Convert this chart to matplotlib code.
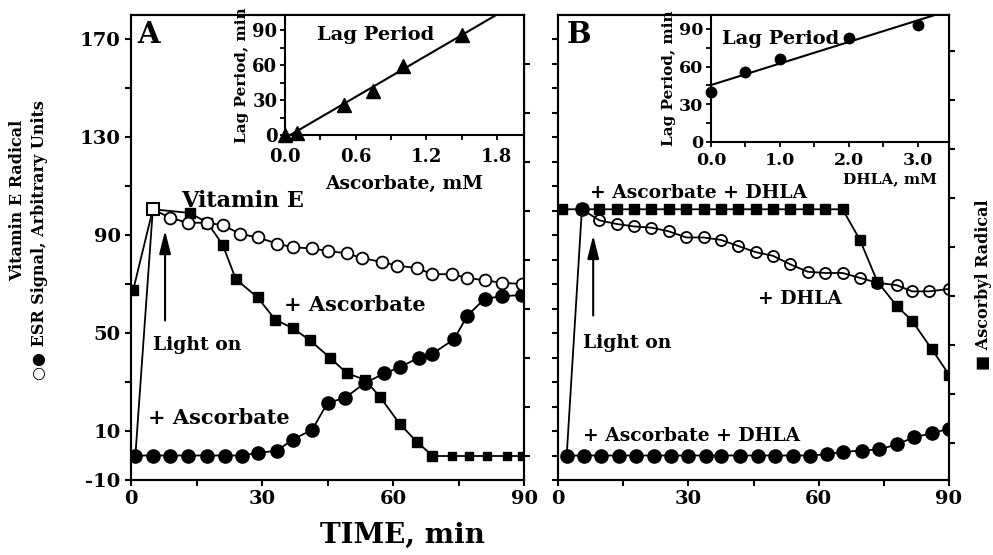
import numpy as np
import matplotlib
matplotlib.use("Agg")
import matplotlib.pyplot as plt
from matplotlib.ticker import MultipleLocator, FixedLocator

plt.rcParams['font.family'] = ['DejaVu Serif', 'DejaVu Sans']
plt.rcParams['font.weight'] = 'bold'
plt.rcParams['axes.linewidth'] = 1.5
plt.rcParams['axes.unicode_minus'] = False

# ---- panel A: vitamin E + ascorbate ----
a_vit_t = [1, 5, 9, 13, 17.5, 21, 25, 29, 33.5, 37, 41.5, 45, 49.5, 53, 57.5,
           61, 65.5, 69, 73.5, 77, 81, 85, 89.5]
a_vit = [0, 100.5, 97, 95, 95, 94, 90.5, 89, 86.5, 85, 84.5, 83.5, 82.5, 80.5,
         79, 77.5, 76.5, 74, 74, 72.5, 71.5, 70.5, 70]

a_asc_t = [1, 5, 9, 13, 17.5, 21.5, 25.5, 29, 33.5, 37, 41.5, 45, 49, 53.5, 58,
           61.5, 66, 69, 74, 77, 81, 85, 89.5]
a_asc = [0, 0, 0, 0, 0, 0, 0, 1, 2, 6.5, 10.5, 21.5, 23.5, 29.5, 33.5, 36, 40,
         41.5, 47.5, 57, 64, 65, 65.5]

a_rad_t = [0.5, 5, 13.5, 17.5, 21, 24, 29, 33, 37, 41, 45.5, 49.5, 53.5, 57,
           61.5, 65.5, 69, 73.5, 77.5, 81.5, 86, 89.5]
a_rad = [67.5, 100.5, 99, 95, 86, 72, 64.5, 55.5, 52, 47, 40, 33.5, 31, 24, 13,
         5.5, 0, 0, 0, 0, 0, 0]

# ---- panel B: + DHLA ----
b_dhla_t = [2, 5.5, 9.5, 13.5, 17.5, 21.5, 25.5, 29.5, 33.5, 37.5, 41.5, 45.5,
            49.5, 53.5, 57.5, 61.5, 65.5, 69.5, 73.5, 78, 81.5, 85.5, 90]
b_dhla = [0, 100.5, 96, 94.5, 93.5, 93, 91.5, 89, 89, 88, 85.5, 83, 81.5, 78,
          75, 74.5, 74.5, 72.5, 70.5, 69.5, 67, 67, 68]

b_both_t = [2, 6, 10, 14, 18, 22, 26, 30, 34, 37.5, 42, 46, 50, 54, 58, 62,
            65.5, 70, 74, 78, 82, 86, 90]
b_both = [0, 0, 0, 0, 0, 0, 0, 0, 0, 0, 0, 0, 0, 0, 0, 0.5, 1.5, 2, 2.5, 4.5,
          7.5, 9, 11]

b_rad_t = [1, 5.5, 9.5, 13.5, 17.5, 21.5, 25.5, 29.5, 33.5, 37.5, 41.5, 45.5,
           49.5, 53.5, 57.5, 61.5, 65.5, 69.5, 73.5, 78, 81.5, 86, 90]
b_rad = [100.5, 100.5, 100.5, 100.5, 100.5, 100.5, 100.5, 100.5, 100.5, 100.5,
         100.5, 100.5, 100.5, 100.5, 100.5, 100.5, 100.5, 88, 71, 61, 55, 43.5, 33]

# ---- insets: lag period ----
ins_a_x = [0, 0.1, 0.5, 0.75, 1.0, 1.5]
ins_a_y = [0, 2, 26, 38, 59, 86]
ins_b_x = [0, 0.5, 1.0, 2.0, 3.0]
ins_b_y = [40, 56, 66, 83, 93]

y_major = [-10, 10, 50, 90, 130, 170]
y_minor = [30, 70, 110, 150]
x_major = [0, 30, 60, 90]

W, H = 993, 555


def rect(left, top, right, bottom):
    # pixel box -> figure fraction
    return [left / W, 1 - bottom / H, (right - left) / W, (bottom - top) / H]


fig = plt.figure(figsize=(W / 100, H / 100), dpi=100)
ax_a = fig.add_axes(rect(131, 15, 524, 480))
ax_b = fig.add_axes(rect(558, 15, 949, 480))

txt_a = dict(fontsize=15, fontweight='bold', va='center', ha='left')
txt_b = dict(fontsize=13.5, fontweight='bold', va='center', ha='left')
lw = 1.3
arrow = dict(arrowstyle='-|>,head_length=1.4,head_width=0.35',
             color='black', lw=1.5)

for ax in (ax_a, ax_b):
    ax.set_xlim(0, 90)
    ax.set_ylim(-10, 179.8)
    ax.set_xticks(x_major)
    ax.xaxis.set_minor_locator(MultipleLocator(15))
    ax.tick_params(axis='both', which='both', direction='out', length=4,
                   width=1.5, labelsize=14, top=False)
    ax.tick_params(axis='x', pad=3)

# panel A main axes
ax_a.set_yticks(y_major)
ax_a.yaxis.set_minor_locator(FixedLocator(y_minor))
ax_a.plot(a_rad_t[:17], a_rad[:17], '-s', color='black', lw=lw, ms=7,
          markevery=[0] + list(range(2, 17)), zorder=3)
ax_a.plot(a_rad_t[16:], a_rad[16:], '-s', color='black', lw=lw, ms=5.5, zorder=3)
ax_a.plot(a_asc_t, a_asc, '-o', color='black', lw=lw, ms=9.5, zorder=4)
ax_a.plot(a_vit_t, a_vit, '-o', color='black', lw=lw, ms=8.5, mfc='white',
          mew=1.3, markevery=list(range(2, len(a_vit))), zorder=5)
ax_a.plot(a_vit_t[1], a_vit[1], 's', ms=9, mfc='white', mec='black', mew=1.5,
          zorder=6)

ax_a.annotate('', xy=(7.8, 93), xytext=(7.8, 54), arrowprops=arrow)
ax_a.text(1.4, 172, 'A', fontsize=21, fontweight='bold', va='center')
ax_a.text(11.5, 104, 'Vitamin E', fontsize=16, fontweight='bold', va='center')
ax_a.text(35, 61.5, '+ Ascorbate', **txt_a)
ax_a.text(4, 15.5, '+ Ascorbate', **txt_a)
ax_a.text(5, 45, 'Light on', fontsize=13.5, fontweight='bold', va='center')

# panel B main axes
ax_b.set_yticks(range(-10, 180, 10))
ax_b.set_yticklabels([])
ax_b.plot(b_rad_t, b_rad, '-s', color='black', lw=lw, ms=7, zorder=3)
ax_b.plot(b_dhla_t, b_dhla, '-o', color='black', lw=lw, ms=8, mfc='none',
          mew=1.3, markevery=list(range(2, len(b_dhla))), zorder=4)
ax_b.plot(b_dhla_t[1], b_dhla[1], 'o', color='black', ms=9.5, zorder=5)
ax_b.plot(b_both_t, b_both, '-o', color='black', lw=lw, ms=9.5, zorder=4)

ax_b.annotate('', xy=(8.1, 91), xytext=(8.1, 56), arrowprops=arrow)
ax_b.text(2.1, 172, 'B', fontsize=21, fontweight='bold', va='center')
ax_b.text(7.4, 107, '+ Ascorbate + DHLA', **txt_b)
ax_b.text(46, 64, '+ DHLA', **txt_b)
ax_b.text(5.8, 8, '+ Ascorbate + DHLA', **txt_b)
ax_b.text(5.8, 46, 'Light on', fontsize=13.5, fontweight='bold', va='center')

# right side ticks (ascorbyl radical scale)
for ax, start in ((ax_a, 0), (ax_b, 5)):
    tw = ax.twinx()
    tw.set_ylim(ax.get_ylim())
    tw.set_yticks(range(start, 171, 20))
    tw.set_yticklabels([])
    tw.tick_params(axis='y', direction='out', length=4, width=1.5)

# inset A
in_a = fig.add_axes(rect(285, 15, 524, 135))
in_a.set_xlim(0, 2.03)
in_a.set_ylim(0, 103)
in_a.plot(ins_a_x, ins_a_y, '^', color='black', ms=10, clip_on=False, zorder=5)
fit_a = np.polyfit(ins_a_x, ins_a_y, 1)
xs_a = np.array(in_a.get_xlim())
in_a.plot(xs_a, np.polyval(fit_a, xs_a), color='black', lw=1.5)
in_a.set_xticks([0.0, 0.6, 1.2, 1.8])
in_a.set_xticklabels(['0.0', '0.6', '1.2', '1.8'])
in_a.xaxis.set_minor_locator(MultipleLocator(0.3))
in_a.set_yticks([0, 30, 60, 90])
in_a.yaxis.set_minor_locator(MultipleLocator(15))
in_a.tick_params(which='both', direction='out', length=3.5, width=1.3,
                 labelsize=13, pad=2)
in_a.tick_params(axis='x', pad=6)
in_a.set_xlabel('Ascorbate, mM', fontsize=13.5, fontweight='bold', labelpad=6)
in_a.set_ylabel('Lag Period, min', fontsize=11, fontweight='bold', labelpad=2)
in_a.text(0.27, 86, 'Lag Period', fontsize=14, fontweight='bold', va='center')

# inset B
in_b = fig.add_axes(rect(711, 15, 949, 142))
in_b.set_xlim(0, 3.45)
in_b.set_ylim(0, 101)
in_b.plot(ins_b_x, ins_b_y, 'o', color='black', ms=7.5, clip_on=False, zorder=5)
fit_b = np.polyfit(ins_b_x, ins_b_y, 1)
xs_b = np.array(in_b.get_xlim())
in_b.plot(xs_b, np.polyval(fit_b, xs_b), color='black', lw=1.5)
in_b.set_xticks([0.0, 1.0, 2.0, 3.0])
in_b.set_xticklabels(['0.0', '1.0', '2.0', '3.0'])
in_b.xaxis.set_minor_locator(MultipleLocator(0.5))
in_b.set_yticks([0, 30, 60, 90])
in_b.yaxis.set_minor_locator(MultipleLocator(15))
in_b.tick_params(which='both', direction='out', length=3.5, width=1.3,
                 labelsize=12.5, pad=2)
in_b.tick_params(axis='x', pad=4)
in_b.set_xlabel('DHLA, mM', fontsize=11, fontweight='bold', ha='right')
in_b.xaxis.set_label_coords(0.95, -0.24)
in_b.set_ylabel('Lag Period, min', fontsize=11, fontweight='bold', labelpad=2)
in_b.text(0.16, 82, 'Lag Period', fontsize=14, fontweight='bold', va='center')

# figure level labels
fig.text(402 / W, 1 - 535 / H, 'TIME, min', fontsize=20, fontweight='bold',
         ha='center', va='center')
fig.text(18 / W, 1 - 200 / H, 'Vitamin E Radical', fontsize=11.5,
         fontweight='bold', rotation=90, ha='center', va='center')
fig.text(40 / W, 1 - 240 / H, '○● ESR Signal, Arbitrary Units', fontsize=11.5,
         fontweight='bold', rotation=90, ha='center', va='center')
fig.text(983 / W, 1 - 285 / H, '■ Ascorbyl Radical', fontsize=11.5,
         fontweight='bold', rotation=90, ha='center', va='center')

fig.savefig('out.png', dpi=100)
